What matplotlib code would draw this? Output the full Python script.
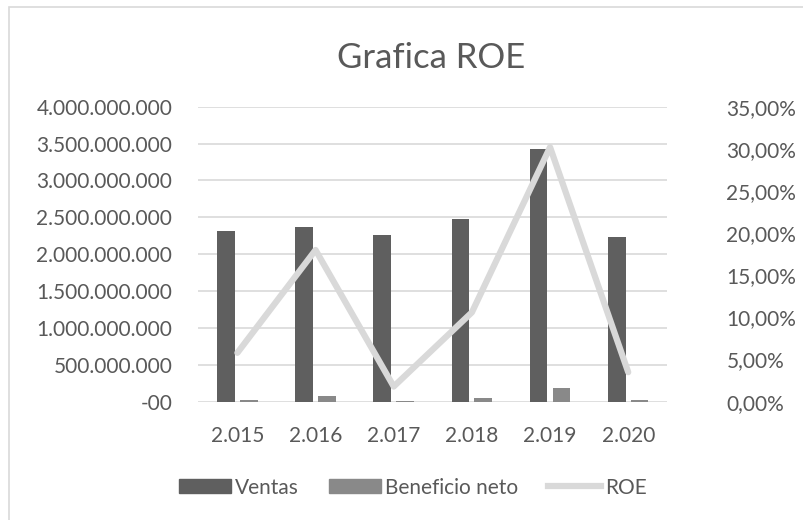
import matplotlib
matplotlib.use("Agg")
import matplotlib.pyplot as plt
import numpy as np
from matplotlib.patches import Patch, Rectangle
from matplotlib.lines import Line2D

years = ["2.015", "2.016", "2.017", "2.018", "2.019", "2.020"]
ventas = [2.32e9, 2.365e9, 2.26e9, 2.48e9, 3.42e9, 2.23e9]
beneficio = [23e6, 72e6, 5e6, 45e6, 181e6, 18e6]
roe = [5.8, 18.0, 1.8, 10.6, 30.2, 3.5]
left_ticks = [0, 5e8, 1e9, 1.5e9, 2e9, 2.5e9, 3e9, 3.5e9, 4e9]
left_labels = ["-00", "500.000.000", "1.000.000.000", "1.500.000.000", "2.000.000.000",
               "2.500.000.000", "3.000.000.000", "3.500.000.000", "4.000.000.000"]
right_ticks = [0, 5, 10, 15, 20, 25, 30, 35]
right_labels = ["0,00%", "5,00%", "10,00%", "15,00%", "20,00%", "25,00%", "30,00%", "35,00%"]

plt.rcParams['font.family'] = ['Lato', 'DejaVu Sans']
TXT = "#595959"
W, H = 804, 520
PT = 72 / 100  # points per pixel
fig = plt.figure(figsize=(W / 100, H / 100), dpi=100)
fig.patches.append(Rectangle((9.5 / W, -0.1), 1.2, 1 - 7.5 / H + 0.1, transform=fig.transFigure,
                             fill=False, edgecolor="#d9d9d9", linewidth=1.2))

x0, x1 = 198.3, 667.3
y0, y1 = 401.7, 106.7
ax = fig.add_axes([x0 / W, 1 - y0 / H, (x1 - x0) / W, (y0 - y1) / H])
x = np.arange(len(years))
bw = 0.226
off = 0.146
ax.bar(x - off, ventas, width=bw, color="#5f5f5f", zorder=2)
ax.bar(x + off, beneficio, width=bw, color="#898989", zorder=2)
ax.set_xlim(-0.5, len(years) - 0.5)
ax.set_ylim(0, 4e9)
ax.set_yticks(left_ticks)
ax.set_yticklabels(left_labels)
ax.set_xticks(x)
ax.set_xticklabels(years)
ax.yaxis.grid(True, color="#d9d9d9", linewidth=1.2, zorder=0)
ax.set_axisbelow(True)
for s in ax.spines.values():
    s.set_visible(False)
FS = 15
ax.tick_params(axis="both", length=0, labelsize=FS, colors=TXT)
ax.tick_params(axis="y", pad=26 * PT)
ax.tick_params(axis="x", pad=24 * PT)

ax2 = ax.twinx()
ax2.plot(x, roe, color="#d9d9d9", linewidth=4.5, solid_capstyle="round", zorder=3)
ax2.set_ylim(0, 35)
ax2.set_yticks(right_ticks)
ax2.set_yticklabels(right_labels)
for s in ax2.spines.values():
    s.set_visible(False)
ax2.tick_params(axis="y", length=0, labelsize=FS, colors=TXT, pad=59 * PT)

fig.text(431 / W, 1 - 58 / H, "Grafica ROE", ha="center", va="center", fontsize=25, color=TXT)

handles = [Patch(color="#5f5f5f"), Patch(color="#898989"),
           Line2D([0], [0], color="#d9d9d9", linewidth=4.5)]
fig.legend(handles, ["Ventas", "Beneficio neto", "ROE"], ncol=3, loc="center",
           bbox_to_anchor=(412.5 / W, 1 - 487.5 / H), frameon=False, fontsize=FS,
           labelcolor=TXT, handlelength=2.5, handletextpad=0.2, columnspacing=1.45,
           handleheight=0.62)

fig.savefig("out.png", dpi=100)
